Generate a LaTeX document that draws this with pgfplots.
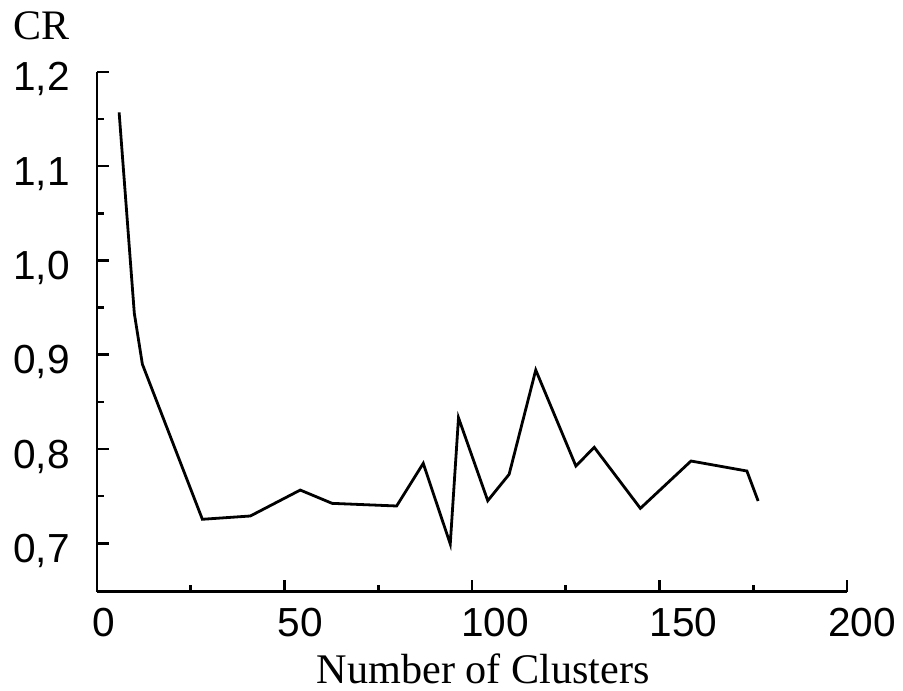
\documentclass[border=0pt]{standalone}
\usepackage{fontspec}
\setmainfont{Liberation Serif}
\newfontfamily\arial{Liberation Sans}
\usepackage{pgfplots}
\pgfplotsset{compat=1.18}

\begin{document}
\begin{tikzpicture}
\begin{axis}[
  scale only axis,
  width=375pt, height=259.9pt,
  xmin=0, xmax=200,
  ymin=0.6487, ymax=1.2,
  clip=false,
  axis lines=left,
  axis line style={-, line width=1.3pt},
  xtick={0,50,100,150,200},
  minor xtick={25,75,125,175},
  xticklabels={{\hspace{7pt}0},{\hspace{16pt}50},{\hspace{23pt}100},{\hspace{24pt}150},{\hspace{15pt}200}},
  ytick={0.7,0.8,0.9,1.0,1.1,1.2},
  minor ytick={0.75,0.85,0.95,1.05,1.15},
  yticklabels={{0,7},{0,8},{0,9},{1,0},{1,1},{1,2}},
  tick align=inside,
  major tick length=6pt,
  minor tick length=3.3pt,
  every tick/.style={black, line width=1.3pt},
  every minor tick/.style={black, line width=1.3pt},
  xticklabel style={font=\arial\fontsize{20.3}{24}\selectfont, anchor=north, inner sep=0pt, yshift=-8pt},
  yticklabel style={font=\arial\fontsize{20.3}{24}\selectfont, anchor=base east, inner sep=0pt, xshift=-13.5pt, yshift=-9.5pt},
]
\addplot[black, line width=1.4pt, line join=miter] coordinates {
  (5.9,1.157) (9.95,0.944) (12.1,0.890) (28.1,0.7255) (40.9,0.729)
  (54.2,0.7565) (62.7,0.7424) (79.9,0.7396) (87.0,0.7848) (94.2,0.6993)
  (96.4,0.8332) (104.2,0.7452) (109.9,0.7732) (117.0,0.8838) (127.7,0.782)
  (132.6,0.8018) (144.9,0.7371) (158.4,0.7873) (173.3,0.7767) (176.3,0.7449)
};
\coordinate (O) at (rel axis cs:0,0);
\coordinate (T) at (rel axis cs:0,1);
\coordinate (X) at (rel axis cs:0.515,0);
\end{axis}
\node[anchor=base west, inner sep=0pt, font=\fontsize{21}{24}\selectfont] at ([xshift=-42pt, yshift=16pt]T) {CR};
\node[anchor=base, inner sep=0pt, font=\fontsize{21.1}{24}\selectfont] at ([yshift=-45.7pt]X) {Number of Clusters};
\path ([xshift=-48.5pt, yshift=-49.15pt]O) rectangle ++(451.5pt,345pt);
\end{tikzpicture}
\end{document}
